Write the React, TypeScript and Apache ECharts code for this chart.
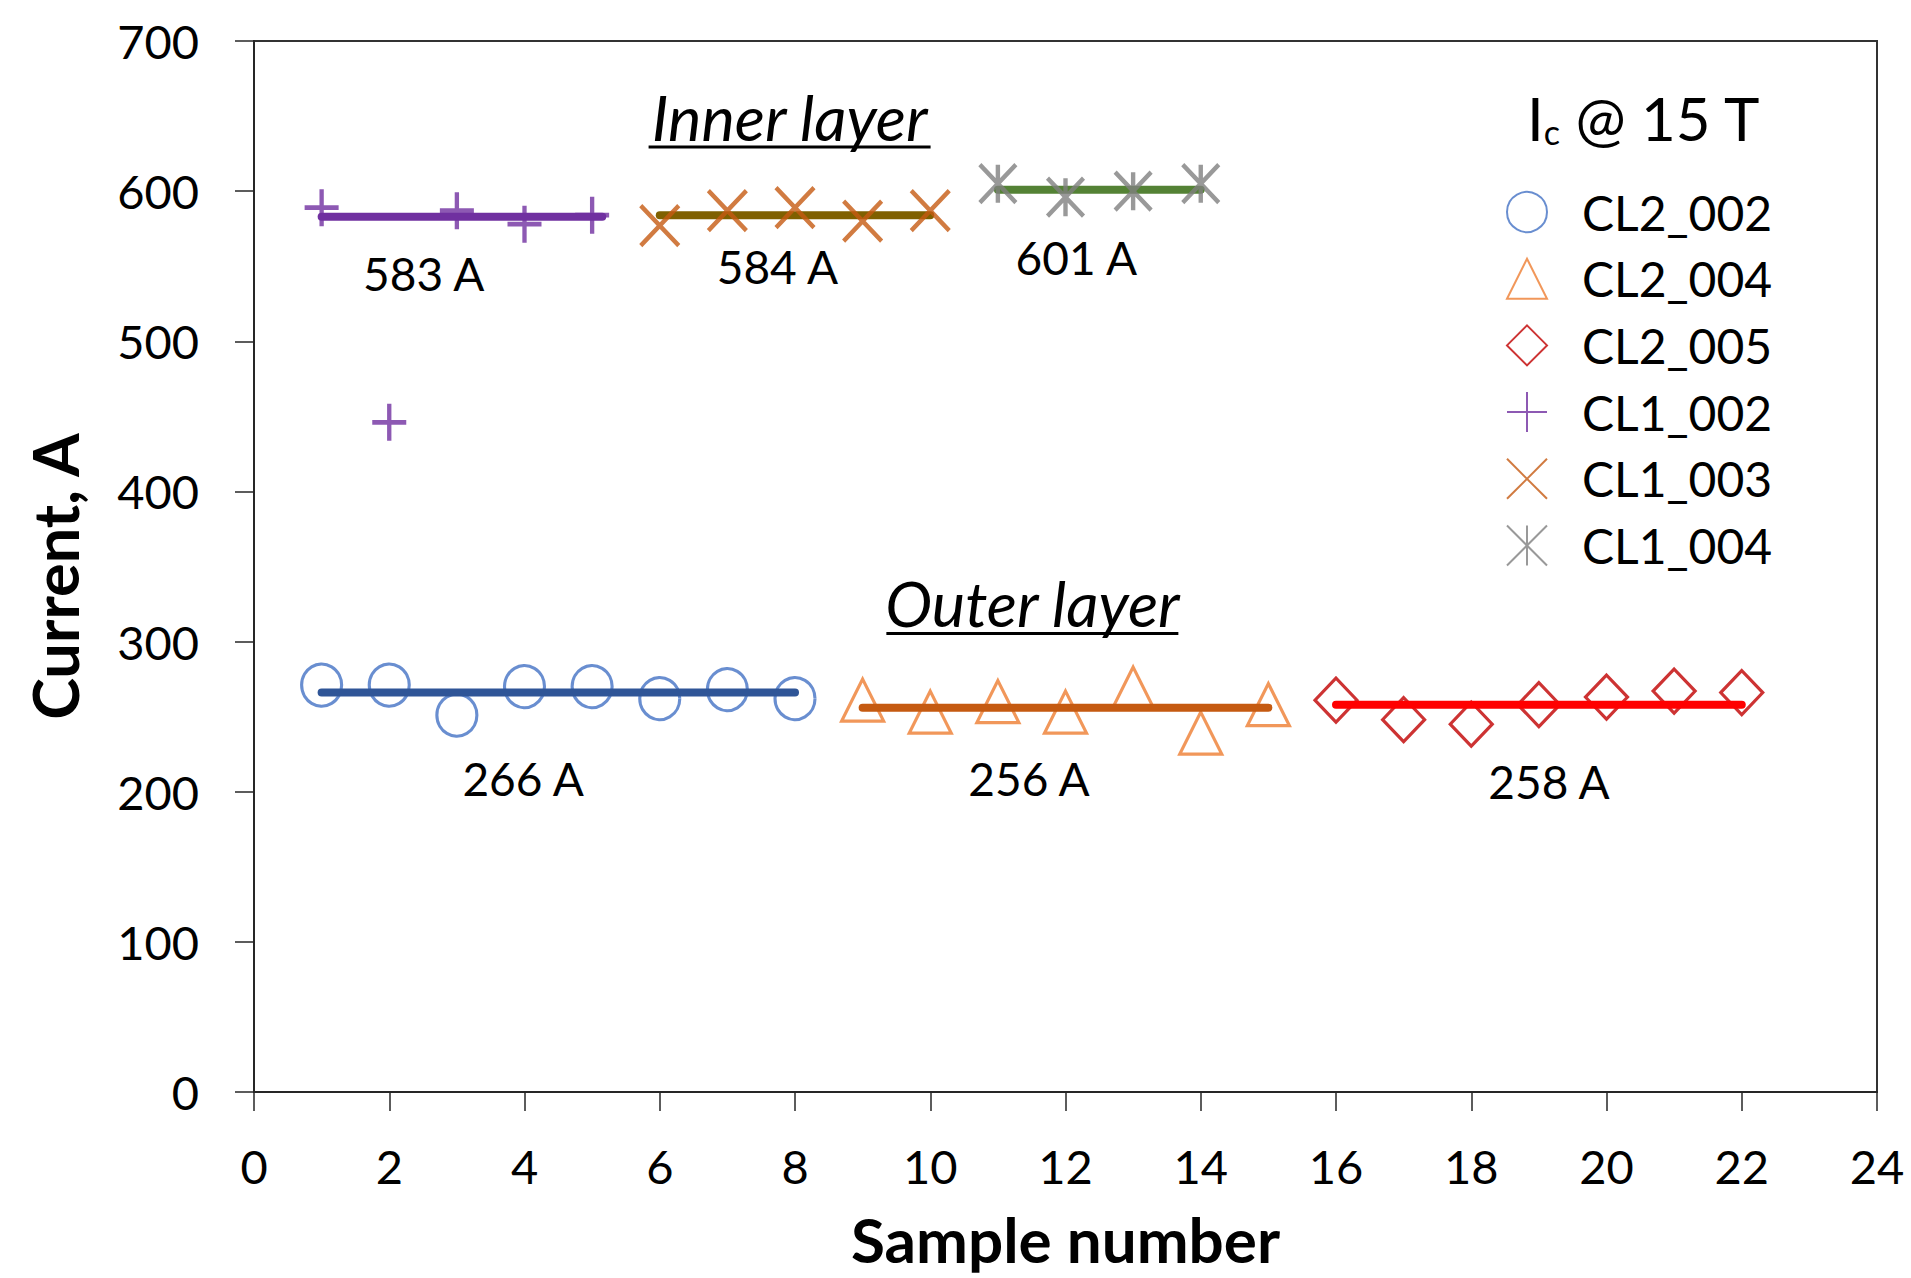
import React, { useEffect, useRef } from "react";
import * as echarts from "echarts";

const FONT = "Lato, 'Open Sans', sans-serif";

// Sample numbers and critical currents (A)
const sampleCL2_002 = [1, 2, 3, 4, 5, 6, 7, 8];
const currentCL2_002 = [271, 271, 251, 270, 270, 262, 268, 262];
const sampleCL2_004 = [9, 10, 11, 12, 13, 14, 15];
const currentCL2_004 = [261, 253, 260, 253, 269, 239, 258];
const sampleCL2_005 = [16, 17, 18, 19, 20, 21, 22];
const currentCL2_005 = [261, 248, 245, 258, 263, 267, 266];
const sampleCL1_002 = [1, 2, 3, 4, 5];
const currentCL1_002 = [589, 446, 587, 578, 584];
const sampleCL1_003 = [6, 7, 8, 9, 10];
const currentCL1_003 = [577, 587, 589, 580, 587];
const sampleCL1_004 = [11, 12, 13, 14];
const currentCL1_004 = [605, 596, 600, 605];

// Mean lines
const meanValues = [266, 256, 258, 583, 584, 601];
const meanStart = [1, 9, 16, 1, 6, 11];
const meanEnd = [8, 15, 22, 5.15, 10, 14];
const meanColors = ["#2F5597", "#C55A11", "#FF0000", "#7030A0", "#7F6000", "#548235"];

// Annotation labels (data coordinates)
const noteTexts = ["583 A", "584 A", "601 A", "266 A", "256 A", "258 A"];
const noteX = [2.51, 7.74, 12.16, 3.98, 11.46, 19.15];
const noteY = [545, 550, 556, 209, 209, 207];

const layerTexts = ["Inner layer", "Outer layer"];
const layerX = [7.92, 11.51];
const layerY = [650, 326];

const seriesNames = ["CL2_002", "CL2_004", "CL2_005", "CL1_002", "CL1_003", "CL1_004"];

const xTicks = { min: 0, max: 24, interval: 2 };
const yTicks = { min: 0, max: 700, interval: 100 };

const zip = (xs: number[], ys: number[]) => xs.map((x, i) => [x, ys[i]]);

export default function App() {
  const ref = useRef<HTMLDivElement>(null);

  useEffect(() => {
    if (!ref.current) return;
    const chart = echarts.init(ref.current, null, { renderer: "svg" });

    const hollow = (c: string, w = 3) => ({ color: "rgba(0,0,0,0)", borderColor: c, borderWidth: w });

    const scatterDefs = [
      { name: "CL2_002", data: zip(sampleCL2_002, currentCL2_002), symbol: "circle", size: [40, 42], color: "#4472C4", z: 2, w: 3.2 },
      { name: "CL2_004", data: zip(sampleCL2_004, currentCL2_004), symbol: "triangle", size: [42, 42], color: "#ED7D31", z: 2, w: 3.2 },
      { name: "CL2_005", data: zip(sampleCL2_005, currentCL2_005), symbol: "diamond", size: [42, 44], color: "#C00000", z: 2, w: 3.2 },
      { name: "CL1_002", data: zip(sampleCL1_002, currentCL1_002), symbol: "path://M0,5L10,5M5,0L5,10", size: [34, 37], color: "#7030A0", z: 2, w: 4.5 },
      { name: "CL1_003", data: zip(sampleCL1_003, currentCL1_003), symbol: "path://M0,0L10,10M10,0L0,10", size: [38, 40], color: "#C55A11", z: 4, w: 4.5 },
      { name: "CL1_004", data: zip(sampleCL1_004, currentCL1_004), symbol: "path://M0,0L10,10M10,0L0,10M5,0L5,10", size: [36, 38], color: "#7F7F7F", z: 4, w: 4.5 },
    ];

    const series: any[] = scatterDefs.map((d) => ({
      type: "scatter",
      name: d.name,
      data: d.data,
      symbol: d.symbol,
      symbolSize: d.size,
      itemStyle: hollow(d.color, d.w),
      z: d.z,
      silent: true,
    }));

    meanValues.forEach((v, i) => {
      series.push({
        type: "line",
        name: "mean " + seriesNames[i],
        data: [
          [meanStart[i], v],
          [meanEnd[i], v],
        ],
        symbol: "none",
        showSymbol: false,
        lineStyle: { color: meanColors[i], width: 8, cap: "round" },
        z: 3,
        silent: true,
      });
    });

    chart.setOption({
      animation: false,
      backgroundColor: "#ffffff",
      grid: {
        left: 254,
        top: 41,
        right: 34,
        bottom: 186,
        show: true,
        borderColor: "#333",
        borderWidth: 2,
        containLabel: false,
        outerBoundsMode: "none",
      },
      xAxis: {
        type: "value",
        min: xTicks.min,
        max: xTicks.max,
        interval: xTicks.interval,
        name: "Sample number",
        nameLocation: "middle",
        nameGap: 116,
        nameTextStyle: { fontSize: 62, fontWeight: "bold", fontFamily: FONT, color: "#000" },
        axisLine: { show: true, onZero: false, lineStyle: { color: "#262626", width: 2 } },
        axisTick: { show: true, inside: false, length: 19, lineStyle: { color: "#262626", width: 1.5 } },
        axisLabel: { fontSize: 47, fontFamily: FONT, color: "#000", margin: 50 },
        splitLine: { show: false },
      },
      yAxis: {
        type: "value",
        min: yTicks.min,
        max: yTicks.max,
        interval: yTicks.interval,
        name: "Current, A",
        nameLocation: "middle",
        nameGap: 168,
        nameRotate: 90,
        nameTextStyle: { fontSize: 63, fontWeight: "bold", fontFamily: FONT, color: "#000", padding: [0, 20, 0, 0] },
        axisLine: { show: true, onZero: false, lineStyle: { color: "#262626", width: 2 } },
        axisTick: { show: true, inside: false, length: 19, lineStyle: { color: "#262626", width: 1.5 } },
        axisLabel: { fontSize: 47, fontFamily: FONT, color: "#000", margin: 55 },
        splitLine: { show: false },
      },
      legend: {
        show: true,
        orient: "vertical",
        left: 1501,
        top: 183,
        itemWidth: 40,
        itemHeight: 40,
        itemGap: 18.7,
        selectedMode: false,
        data: seriesNames,
        textStyle: { fontSize: 48, fontFamily: FONT, color: "#000", lineHeight: 40, padding: [0, 0, 0, 30] },
      },
      series,
    });

    const graphics: any[] = [];
    noteTexts.forEach((t, i) => {
      const p = chart.convertToPixel({ gridIndex: 0 }, [noteX[i], noteY[i]]) as number[];
      graphics.push({
        type: "text",
        x: p[0],
        y: p[1],
        silent: true,
        style: { text: t, fontSize: 46, fontFamily: FONT, fill: "#000", align: "center", verticalAlign: "middle" },
      });
    });
    layerTexts.forEach((t, i) => {
      const p = chart.convertToPixel({ gridIndex: 0 }, [layerX[i], layerY[i]]) as number[];
      const halfW = i === 0 ? 141 : 146;
      graphics.push({
        type: "text",
        x: p[0],
        y: p[1],
        silent: true,
        style: {
          text: t,
          fontSize: 63,
          fontStyle: "italic",
          fontFamily: FONT,
          fill: "#000",
          align: "center",
          verticalAlign: "middle",
        },
      });
      graphics.push({
        type: "line",
        silent: true,
        shape: { x1: p[0] - halfW, y1: p[1] + 31, x2: p[0] + halfW, y2: p[1] + 31 },
        style: { stroke: "#000", lineWidth: 3 },
      });
    });
    // legend title: I_c @ 15 T
    graphics.push({
      type: "text",
      left: 1527,
      top: 66,
      silent: true,
      style: {
        text: "{a|I}{b|c}{a| @ 15 T}",
        rich: {
          a: { fontSize: 60, fontFamily: FONT, fill: "#000", lineHeight: 62, verticalAlign: "bottom" },
          b: { fontSize: 34, fontFamily: FONT, fill: "#000", lineHeight: 62, padding: [48, 0, 0, 0], verticalAlign: "bottom" },
        },
      },
    });

    chart.setOption({ graphic: graphics });

    return () => chart.dispose();
  }, []);

  return (
    <div
      ref={ref}
      style={{ position: "absolute", left: 0, top: 0, width: 1911, height: 1278, background: "#fff" }}
    />
  );
}
